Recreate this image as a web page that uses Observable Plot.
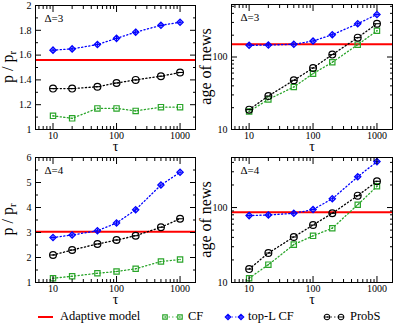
<!DOCTYPE html>
<html><head><meta charset="utf-8">
<script src="https://cdn.jsdelivr.net/npm/d3@7"></script>
<script src="https://cdn.jsdelivr.net/npm/@observablehq/plot@0.6"></script>
<style>
body{margin:0;background:#fff;}
#chart{position:relative;width:395px;height:329px;overflow:hidden;font-family:"Liberation Serif",serif;background:#fff;}
#chart text{font-family:"Liberation Serif",serif;}
.panel{position:absolute;}
</style></head><body><div id="chart"></div>
<script>
// ---- data ----
const tau = [10, 20, 50, 100, 200, 500, 1000];
const legendLabels = ["Adaptive model", "CF", "top-L CF", "ProbS"];

const p3_CF    = [1.11, 1.09, 1.17, 1.17, 1.15, 1.18, 1.18];
const p3_topL  = [1.64, 1.65, 1.685, 1.735, 1.785, 1.84, 1.865];
const p3_ProbS = [1.33, 1.33, 1.345, 1.375, 1.40, 1.43, 1.46];
const p3_adaptive = 1.56;

const age3_CF    = [17.7, 26, 38.6, 59, 84.5, 148, 230];
const age3_topL  = [145, 146, 150, 166, 203, 288, 386];
const age3_ProbS = [18.8, 29, 47.7, 70.6, 108, 185, 288];
const age3_adaptive = 150;

const p4_CF    = [1.17, 1.25, 1.37, 1.44, 1.55, 1.84, 1.92];
const p4_topL  = [2.80, 2.90, 3.07, 3.38, 3.91, 4.90, 5.41];
const p4_ProbS = [2.10, 2.30, 2.54, 2.70, 2.87, 3.21, 3.55];
const p4_adaptive = 3.03;

const age4_CF    = [11.4, 17.3, 32, 41.9, 53, 109, 192];
const age4_topL  = [78, 79.6, 83.8, 94, 131, 257, 410];
const age4_ProbS = [15.1, 24.7, 40.5, 58.4, 83.8, 144, 224];
const age4_adaptive = 86.5;

const xMajor = [10, 100, 1000];
const xMinor = [6, 7, 8, 9, 20, 30, 40, 50, 60, 70, 80, 90, 200, 300, 400, 500, 600, 700, 800, 900];
const yMajorP3 = [1, 1.2, 1.4, 1.6, 1.8, 2];
const yMinorP3 = [1.1, 1.3, 1.5, 1.7, 1.9];
const yMajorP4 = [1, 2, 3, 4, 5, 6];
const yMinorP4 = [1.5, 2.5, 3.5, 4.5, 5.5];
const yMajorLog = [10, 100];
const yMinorLog = [20, 30, 40, 50, 60, 70, 80, 90, 200, 300, 400, 500];

const colCF = "#2aa52a", colTopL = "#0000ff", colProbS = "#000000", colAdaptive = "#ff0000";
const FONT = '"Liberation Serif", serif';

const hline = {draw(ctx, size) { const r = Math.sqrt(size / Math.PI); ctx.moveTo(-r, 0); ctx.lineTo(r, 0); }};

function panel(o) {
  const rows = tau.map((t, i) => ({tau: t, CF: o.cf[i], topL: o.topl[i], ProbS: o.probs[i]}));
  const xDom = [5.3, 1750];
  const inDom = (v, d) => v >= Math.min(...d) && v <= Math.max(...d);
  const xm = xMinor.filter(v => inDom(v, xDom));
  const ym = o.yMinor.filter(v => inDom(v, o.yDomain));
  const dash = "1.2,2.4";
  const tickAxes = [];
  for (const a of ["bottom", "top"]) {
    tickAxes.push(Plot.axisX(xMajor, {anchor: a, tickSize: -6, fill: "none", label: null}));
    tickAxes.push(Plot.axisX(xm, {anchor: a, tickSize: -3, fill: "none", label: null}));
  }
  for (const a of ["left", "right"]) {
    tickAxes.push(Plot.axisY(o.yMajor, {anchor: a, tickSize: -6, fill: "none", label: null}));
    tickAxes.push(Plot.axisY(ym, {anchor: a, tickSize: -3, fill: "none", label: null}));
  }
  const chart = Plot.plot({
    width: o.w, height: o.h,
    marginLeft: o.ml, marginRight: o.mr, marginTop: o.mt, marginBottom: o.mb,
    style: {fontFamily: FONT, fontSize: "10px", background: "transparent", overflow: "visible"},
    x: {type: "log", domain: xDom},
    y: {type: o.yType, domain: o.yDomain},
    marks: [
      Plot.ruleY([o.adaptive], {stroke: colAdaptive, strokeWidth: 2}),
      Plot.line(rows, {x: "tau", y: "CF", stroke: colCF, strokeWidth: 1.3, strokeDasharray: dash}),
      Plot.line(rows, {x: "tau", y: "ProbS", stroke: colProbS, strokeWidth: 1.3, strokeDasharray: dash}),
      Plot.line(rows, {x: "tau", y: "topL", stroke: colTopL, strokeWidth: 1.3, strokeDasharray: dash}),
      Plot.dot(rows, {x: "tau", y: "CF", symbol: "square", fill: "none", stroke: colCF, strokeWidth: 1.2, r: 3}),
      Plot.dot(rows, {x: "tau", y: "CF", fill: colCF, r: 0.8}),
      Plot.dot(rows, {x: "tau", y: "ProbS", symbol: "circle", fill: "none", stroke: colProbS, strokeWidth: 1.2, r: 3.4}),
      Plot.dot(rows, {x: "tau", y: "ProbS", symbol: hline, stroke: colProbS, strokeWidth: 1.1, r: 3.4}),
      Plot.dot(rows, {x: "tau", y: "topL", symbol: "diamond2", fill: "none", stroke: colTopL, strokeWidth: 1.3, r: 2.8}),
      Plot.dot(rows, {x: "tau", y: "topL", symbol: "plus", stroke: colTopL, strokeWidth: 1.1, r: 1.6}),
      Plot.frame({stroke: "black", strokeWidth: 1}),
      ...tickAxes,
      Plot.axisX(xMajor, {anchor: "bottom", tickSize: 0, tickPadding: 2, label: null, tickFormat: d => String(d), fontSize: 10, fontFamily: FONT}),
      Plot.axisY(o.yMajor, {anchor: "left", tickSize: 0, tickPadding: 4, label: null, tickFormat: o.yFmt, fontSize: 10, fontFamily: FONT}),
      Plot.text([o.delta], {text: d => d, frameAnchor: "top-left", textAnchor: "start", lineAnchor: "middle", dx: 9, dy: 13, fontSize: 11, fill: "black", fontFamily: FONT}),
      Plot.text(["τ"], {text: d => d, frameAnchor: "bottom", lineAnchor: "top", dy: 12, fontSize: 14, fill: "black", fontFamily: FONT})
    ]
  });
  const div = document.createElement("div");
  div.className = "panel";
  div.style.left = o.left + "px";
  div.style.top = o.top + "px";
  div.appendChild(chart);
  document.getElementById("chart").appendChild(div);
  // y axis title (with subscript support)
  const svg = d3.select(chart);
  const cy = o.mt + (o.h - o.mt - o.mb) / 2;
  const t = svg.append("text")
    .attr("transform", `translate(${o.labelX},${cy}) rotate(-90)`)
    .attr("text-anchor", "middle").attr("dominant-baseline", "middle")
    .style("font-family", FONT).attr("font-size", 16).attr("fill", "black");
  t.append("tspan").text(o.ylabel[0]);
  if (o.ylabel[1]) t.append("tspan").attr("font-size", 11).attr("dy", 4).text(o.ylabel[1]);
}

const fmtLin = d => String(+d.toFixed(1));
const fmtInt = d => String(d);

panel({left: 0, top: 0, w: 197, h: 150, ml: 35, mr: 2, mt: 5, mb: 21,
  cf: p3_CF, topl: p3_topL, probs: p3_ProbS, adaptive: p3_adaptive,
  yType: "linear", yDomain: [1, 2], yMajor: yMajorP3, yMinor: yMinorP3, yFmt: fmtLin,
  delta: "Δ=3", ylabel: ["p / p", "r"], labelX: 9});
panel({left: 197, top: 0, w: 198, h: 150, ml: 34, mr: 3, mt: 4, mb: 21,
  cf: age3_CF, topl: age3_topL, probs: age3_ProbS, adaptive: age3_adaptive,
  yType: "log", yDomain: [10, 530], yMajor: yMajorLog, yMinor: yMinorLog, yFmt: fmtInt,
  delta: "Δ=3", ylabel: ["age of news"], labelX: 10});
panel({left: 0, top: 150, w: 197, h: 150, ml: 35, mr: 2, mt: 7, mb: 18,
  cf: p4_CF, topl: p4_topL, probs: p4_ProbS, adaptive: p4_adaptive,
  yType: "linear", yDomain: [1, 6], yMajor: yMajorP4, yMinor: yMinorP4, yFmt: fmtInt,
  delta: "Δ=4", ylabel: ["p / p", "r"], labelX: 9});
panel({left: 197, top: 150, w: 198, h: 150, ml: 34, mr: 3, mt: 7, mb: 18,
  cf: age4_CF, topl: age4_topL, probs: age4_ProbS, adaptive: age4_adaptive,
  yType: "log", yDomain: [10, 465], yMajor: yMajorLog, yMinor: yMinorLog, yFmt: fmtInt,
  delta: "Δ=4", ylabel: ["age of news"], labelX: 10});

// ---- legend ----
const lg = d3.select("#chart").append("svg")
  .attr("width", 395).attr("height", 29)
  .style("position", "absolute").style("left", "0px").style("top", "300px");
const ly = 17;
const sym = (type, r) => d3.symbol(type, Math.PI * r * r)();
lg.append("line").attr("x1", 38).attr("x2", 53).attr("y1", ly).attr("y2", ly).attr("stroke", colAdaptive).attr("stroke-width", 2);
lg.append("text").attr("x", 60).attr("y", ly).attr("dominant-baseline", "middle").style("font-family", FONT).attr("font-size", 12.5).text(legendLabels[0]);
function legendItem(x1, x2, color, draw, label, tx) {
  lg.append("line").attr("x1", x1).attr("x2", x2).attr("y1", ly).attr("y2", ly).attr("stroke", color).attr("stroke-width", 1.2).attr("stroke-dasharray", "1.2,2.4");
  for (const x of [x1, x2]) draw(lg.append("g").attr("transform", `translate(${x},${ly})`), color);
  lg.append("text").attr("x", tx).attr("y", ly).attr("dominant-baseline", "middle").style("font-family", FONT).attr("font-size", 12.5).text(label);
}
legendItem(165, 180, colCF, (g, c) => {
  g.append("path").attr("d", sym(d3.symbolSquare, 2.5)).attr("fill", "none").attr("stroke", c).attr("stroke-width", 1.2);
  g.append("circle").attr("r", 0.8).attr("fill", c);
}, legendLabels[1], 188);
legendItem(228, 241, colTopL, (g, c) => {
  g.append("path").attr("d", sym(d3.symbolDiamond2, 2.4)).attr("fill", "none").attr("stroke", c).attr("stroke-width", 1.3);
  g.append("path").attr("d", sym(d3.symbolPlus, 1.3)).attr("fill", "none").attr("stroke", c).attr("stroke-width", 1);
}, legendLabels[2], 248);
legendItem(327, 341, colProbS, (g, c) => {
  g.append("circle").attr("r", 2.8).attr("fill", "none").attr("stroke", c).attr("stroke-width", 1.1);
  g.append("line").attr("x1", -2.8).attr("x2", 2.8).attr("stroke", c).attr("stroke-width", 1);
}, legendLabels[3], 350);
</script></body></html>
